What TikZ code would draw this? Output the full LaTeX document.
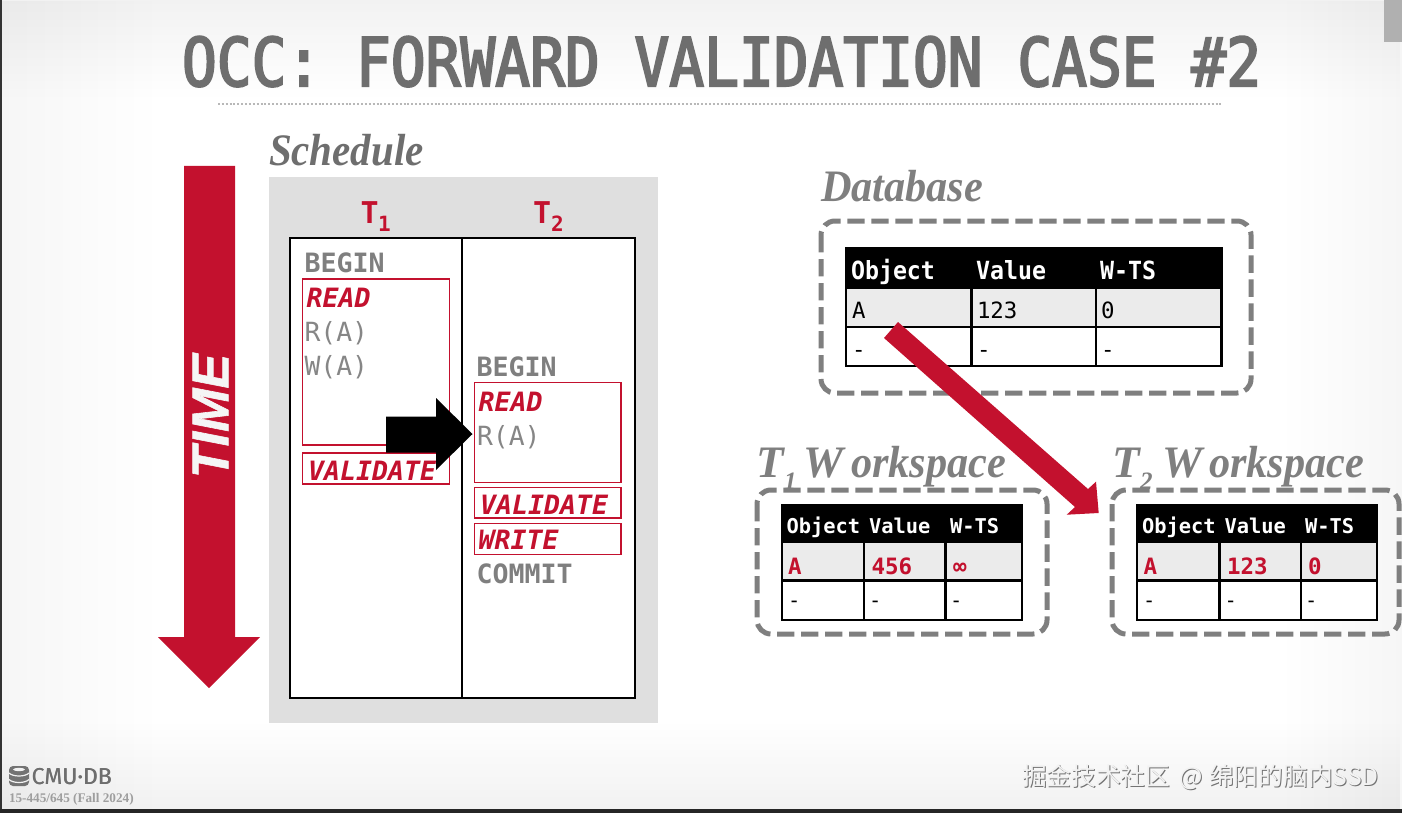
\documentclass[tikz,border=0pt]{standalone}
\usepackage{fontspec}
\usetikzlibrary{fadings}
\setmainfont{Liberation Serif}
\newfontfamily\titlefont[FakeStretch=0.863,FakeBold=3]{DejaVu Sans Mono}
\newfontfamily\bodyfont{DejaVu Sans Mono}
\newfontfamily\narrowfont[FakeStretch=0.93]{DejaVu Sans Mono}
\newfontfamily\serifbold[FakeStretch=0.94]{Liberation Serif}
\newfontfamily\serifsched[FakeStretch=0.91]{Liberation Serif}
\newfontfamily\serifplain{Liberation Serif}
\newfontfamily\logofont{Fira Sans}
\newfontfamily\timefont[FakeStretch=1.0,FakeBold=1.2]{Liberation Sans Bold Italic}
\newfontfamily\cjkfont{Noto Sans CJK SC}
\definecolor{cmured}{HTML}{C3112E}
\definecolor{txtgray}{HTML}{7F7F7F}
\definecolor{ttlgray}{HTML}{6E6E6E}
\definecolor{panelgray}{HTML}{DFDFDF}
\definecolor{rowgray}{HTML}{EBEBEB}
\newcommand{\pxfont}[1]{\fontsize{\dimexpr#1pt*3/4\relax}{\dimexpr#1pt*3/4\relax}\selectfont}
\tikzset{
  txt/.style={inner sep=0pt,outer sep=0pt,anchor=base west},
  opmono/.style={txt,text=txtgray,font=\bodyfont\bfseries\pxfont{26.6}},
  opthin/.style={txt,text=gray!95,font=\bodyfont\pxfont{26.4}},
  phase/.style={txt,text=cmured,font=\bodyfont\bfseries\itshape\pxfont{26.6}},
  phasebox/.style={draw=cmured,line width=1pt},
  dashbox/.style={draw=txtgray,line width=3.75pt,dash pattern=on 13pt off 5pt,rounded corners=10.5pt},
  heading/.style={txt,text=ttlgray,font=\serifsched\bfseries\itshape\pxfont{45}},
  headnarrow/.style={txt,text=txtgray,font=\serifbold\bfseries\itshape\pxfont{45}},
  headplain/.style={txt,text=txtgray,font=\serifplain\bfseries\itshape\pxfont{45}},
  headsub/.style={txt,text=txtgray,font=\serifplain\bfseries\itshape\pxfont{25}},
  tlabel/.style={txt,text=cmured,font=\bodyfont\bfseries\pxfont{30}},
  tsub/.style={txt,text=cmured,font=\bodyfont\bfseries\pxfont{21}},
  grid/.style={draw=black,line width=1.6pt},
}
\newcommand{\dbtable}[8]{%
  \fill[black] (#1,#5) rectangle (#4,#6);
  \fill[rowgray] (#1,#6) rectangle (#4,#7);
  \fill[white] (#1,#7) rectangle (#4,#8);
  \draw[grid] (#1,#5) rectangle (#4,#8);
  \draw[grid] (#1,#6) -- (#4,#6) (#1,#7) -- (#4,#7);
  \draw[grid] (#2,#5) -- (#2,#8) (#3,#5) -- (#3,#8);
}
\begin{document}
\begin{tikzpicture}[x=0.75pt,y=-0.75pt]
\useasboundingbox (0,0) rectangle (1402,813);
% background
\fill[white] (0,0) rectangle (1402,813);
\fill[black,opacity=0.035,path fading=east] (0,0) rectangle (160,813);
\fill[black,opacity=0.035,path fading=west] (1280,0) rectangle (1402,813);
\fill[black,opacity=0.05,path fading=south] (0,0) rectangle (1402,100);
\fill[black,opacity=0.055,path fading=north] (0,720) rectangle (1402,813);
\fill[black!80] (0,0) rectangle (2,813);
\fill[black!85] (0,809) rectangle (1402,813);
\fill[black!31] (1384,0) rectangle (1402,42);
% title
\node[txt,text=ttlgray,font=\titlefont\pxfont{67}] (title) at (182,86) {OCC: FORWARD VALIDATION CASE \#2};
\draw[black!28,line width=2.2pt,dash pattern=on 1.5pt off 1.4pt] (218,104) -- (1222,104);
% time arrow
\fill[cmured] (184,166) -- (235,166) -- (235,637) -- (260,637) -- (209,688) -- (158,637) -- (184,637) -- cycle;
\node[inner sep=0pt,text=white!96!black,rotate=90,font=\timefont\pxfont{52}] (time) at (210.5,416) {TIME};
% schedule
\node[heading] (schedule) at (269,166) {Schedule};
\fill[panelgray] (269,177) rectangle (658,723);
\fill[white] (290,238) rectangle (635,698);
\draw[black,line width=0.8pt] (290,238) rectangle (635,698) (462,238) -- (462,698);
\node[tlabel] (t1) at (360.5,223) {T};
\node[tsub] (t1s) at (378,231) {1};
\node[tlabel] (t2) at (533,223) {T};
\node[tsub] (t2s) at (551,231) {2};
% T1 ops
\node[opmono] (b1) at (304.5,272) {BEGIN};
\draw[phasebox] (302.5,279) rectangle (449.5,445);
\node[phase] (r1) at (306.5,307) {READ};
\node[opthin] (ra1) at (304.5,341) {R(A)};
\node[opthin] (wa1) at (304.5,375) {W(A)};
\draw[phasebox] (302.5,453) rectangle (449.5,484);
\node[phase] (v1) at (308,480) {VALIDATE};
% T2 ops
\node[opmono] (b2) at (476.5,376) {BEGIN};
\draw[phasebox] (474.5,382.5) rectangle (621,482.5);
\node[phase] (r2) at (478.5,411) {READ};
\node[opthin] (ra2) at (477,445) {R(A)};
\draw[phasebox] (474.5,487.5) rectangle (621,518);
\node[phase] (v2) at (480,514) {VALIDATE};
\draw[phasebox] (474.5,523.5) rectangle (621,554.5);
\node[phase] (w2) at (478.5,549) {WRITE};
\node[opmono] (c2) at (476.5,583) {COMMIT};
% black arrow
\fill[black] (386,416.5) -- (436,416.5) -- (436,398) -- (472.5,434) -- (436,470) -- (436,452.5) -- (386,452.5) -- cycle;
% database
\node[headnarrow] (dbh) at (821,201) {Database};
\draw[dashbox] (821,221) rectangle (1251,393);
\dbtable{846}{971.5}{1096}{1221.5}{248}{288}{327}{366}
\foreach \n/\t/\x in {a/Object/851,b/Value/976,c/W-TS/1100}
  \node[txt,text=white,font=\narrowfont\bfseries\pxfont{25}] (dbh\n) at (\x,279) {\t};
\foreach \n/\t/\x in {a/A/852,b/123/977,c/0/1101}
  \node[txt,text=black,font=\bodyfont\pxfont{22.4}] (dbr\n) at (\x,318) {\t};
\foreach \n/\x in {a/852,b/977,c/1101}
  \node[txt,text=black,font=\bodyfont\pxfont{22.4}] (dbd\n) at (\x,357) {-};
% T1 workspace
\dbtable{782}{864}{945.5}{1022}{505.5}{541.5}{580.5}{620}
\draw[dashbox] (757,490) rectangle (1047,634);
\foreach \n/\t/\x in {a/Object/786.5,b/Value/869,c/W-TS/950}
  \node[txt,text=white,font=\bodyfont\bfseries\pxfont{20.4}] (wah\n) at (\x,533) {\t};
\foreach \n/\t/\x in {a/A/788,b/456/871.5,c/∞/953}
  \node[txt,text=cmured,font=\bodyfont\bfseries\pxfont{22.5}] (war\n) at (\x,574) {\t};
\foreach \n/\x in {a/788,b/869,c/950}
  \node[txt,text=black,font=\bodyfont\pxfont{20.4}] (wad\n) at (\x,607) {-};
% T2 workspace
\dbtable{1137}{1219.5}{1301}{1377}{505.5}{541.5}{580.5}{620}
\draw[dashbox] (1112,490) rectangle (1399,634);
\foreach \n/\t/\x in {a/Object/1142,b/Value/1224.5,c/W-TS/1305}
  \node[txt,text=white,font=\bodyfont\bfseries\pxfont{20.4}] (wbh\n) at (\x,533) {\t};
\foreach \n/\t/\x in {a/A/1143.5,b/123/1227,c/0/1308}
  \node[txt,text=cmured,font=\bodyfont\bfseries\pxfont{22.5}] (wbr\n) at (\x,574) {\t};
\foreach \n/\x in {a/1143,b/1224.5,c/1305}
  \node[txt,text=black,font=\bodyfont\pxfont{20.4}] (wbd\n) at (\x,607) {-};
% workspace headings
\node[headplain] (wha) at (756,477) {T};
\node[headsub] (hasub) at (784,489) {1};
\node[headplain] (wha2) at (803,477) {W};
\node[headnarrow] (wha3) at (851,477) {orkspace};
\node[headplain] (whb) at (1112,477) {T};
\node[headsub] (hbsub) at (1140,489) {2};
\node[headplain] (whb2) at (1162,477) {W};
\node[headnarrow] (whb3) at (1209,477) {orkspace};
% red block arrow from database to T2 workspace
\fill[cmured] (898,322) -- (884,338) -- (1075,507) -- (1066.7,514.7) -- (1098.7,513) -- (1096,481.7) -- (1088,489) -- cycle;
% footer
\fill[black!55,rounded corners=3pt] (9,766) rectangle (29,786);
\draw[white!95!black,line width=0.9pt] (9,773) .. controls (13,777) and (25,777) .. (29,773)
  (9,779.5) .. controls (13,783.5) and (25,783.5) .. (29,779.5);
\fill[white!95!black] (19,769.5) ellipse (6 and 1.6);
\node[txt,text=ttlgray,font=\logofont\pxfont{23}] (cmu) at (31.5,784) {CMU·DB};
\node[txt,text=ttlgray,font=\logofont\pxfont{23}] (cmub) at (31.9,784) {CMU·DB};
\node[txt,text=black!38,font=\serifplain\bfseries\pxfont{13.2}] (course) at (9,802) {15-445/645 (Fall 2024)};
\node[txt,text=black!55,font=\cjkfont\pxfont{24.7}] (wm2) at (1023,786) {掘金技术社区 \kern2.5pt@ \kern1pt绵阳的脑内SSD};
\node[txt,text=white!95!black,font=\cjkfont\pxfont{24.7}] (wm) at (1022,785) {掘金技术社区 \kern2.5pt@ \kern1pt绵阳的脑内SSD};
\end{tikzpicture}
\end{document}
